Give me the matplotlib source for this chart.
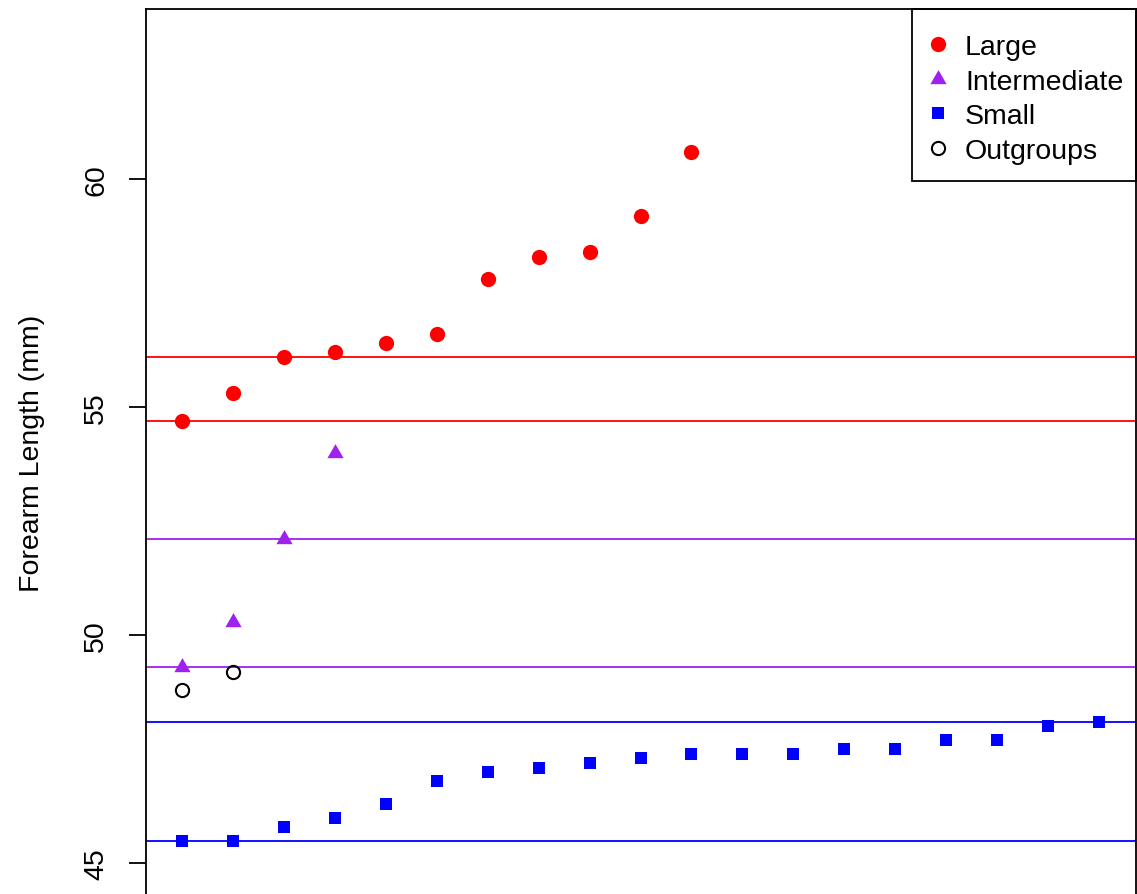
import matplotlib
matplotlib.use("Agg")
import matplotlib.pyplot as plt
import matplotlib.ticker as mticker
from matplotlib.patches import Rectangle

# ── Data ────────────────────────────────────────────────────────────────────
large = [54.7, 55.3, 56.1, 56.2, 56.4, 56.6, 57.8, 58.3, 58.4, 59.2, 60.6]
intermediate = [49.3, 50.3, 52.1, 54.0]
small = [45.5, 45.5, 45.8, 46.0, 46.3, 46.8, 47.0, 47.1, 47.2, 47.3,
         47.4, 47.4, 47.4, 47.5, 47.5, 47.7, 47.7, 48.0, 48.1]
outgroups = [48.8, 49.2]

large_lines = [54.7, 56.1]
inter_lines = [49.3, 52.1]
small_lines = [45.5, 48.1]

y_ticks = [45, 50, 55, 60]
y_lim = (45, 63)
n_x = len(small)

RED, PURPLE, BLUE = "#FF0000", "#A020F0", "#0000FF"
TRI = [(0, 1), (-0.866, -0.5), (0.866, -0.5)]   # R-style equilateral triangle

plt.rcParams["font.family"] = ["Liberation Sans", "DejaVu Sans"]

W, H = 1137, 895
fig = plt.figure(figsize=(W / 100, H / 100), dpi=100)
ax = fig.add_axes([145.5 / W, -0.00246, 990 / W, 0.99095])

# R-style 4% axis extension
yr = y_lim[1] - y_lim[0]
ax.set_ylim(y_lim[0] - 0.04 * yr, y_lim[1] + 0.04 * yr)
xr = n_x - 1
ax.set_xlim(1 - 0.04 * xr, n_x + 0.04 * xr)

for v in large_lines:
    ax.axhline(v, color=RED, lw=1.3, zorder=1)
for v in inter_lines:
    ax.axhline(v, color=PURPLE, lw=1.3, zorder=1)
for v in small_lines:
    ax.axhline(v, color=BLUE, lw=1.3, zorder=1)

ax.plot(range(1, len(large) + 1), large, "o", color=RED, ms=11,
        mew=0, ls="none", zorder=3, label="Large")
ax.plot(range(1, len(intermediate) + 1), intermediate, marker=TRI,
        color=PURPLE, ms=13.5, mew=0, ls="none", zorder=3, label="Intermediate")
ax.plot(range(1, len(small) + 1), small, "s", color=BLUE, ms=9.2,
        mew=0, ls="none", zorder=3, label="Small")
ax.plot(range(1, len(outgroups) + 1), outgroups, "o", mfc="none", mec="black",
        mew=1.5, ms=9.5, ls="none", zorder=3, label="Outgroups")

ax.set_yticks(y_ticks)
ax.yaxis.set_major_formatter(mticker.FormatStrFormatter("%d"))
ax.tick_params(axis="y", labelrotation=90, length=12.2, width=1.3,
               pad=14, labelsize=20.5)
for lbl in ax.get_yticklabels():
    lbl.set_va("center")
ax.set_xticks([])
for sp in ax.spines.values():
    sp.set_linewidth(1.3)

ax.set_ylabel("Forearm Length (mm)", fontsize=20.5)
ax.yaxis.set_label_coords((45 - 145.5) / 990, 0.5)

# legend entries without frame, box drawn separately (R legend proportions)
leg = ax.legend(loc="upper left", bbox_to_anchor=(926.6 / W, 1 - 35 / H),
                bbox_transform=fig.transFigure, fontsize=20.5, frameon=False,
                borderpad=0, borderaxespad=0, handlelength=0.8,
                handletextpad=0.55, labelspacing=0.3)
fig.patches.append(Rectangle((912 / W, 1 - 182 / H), (1135.5 - 912) / W,
                             (182 - 10) / H, transform=fig.transFigure,
                             fill=False, edgecolor="black", lw=1.3, zorder=5))

fig.savefig("out.png", dpi=100)
